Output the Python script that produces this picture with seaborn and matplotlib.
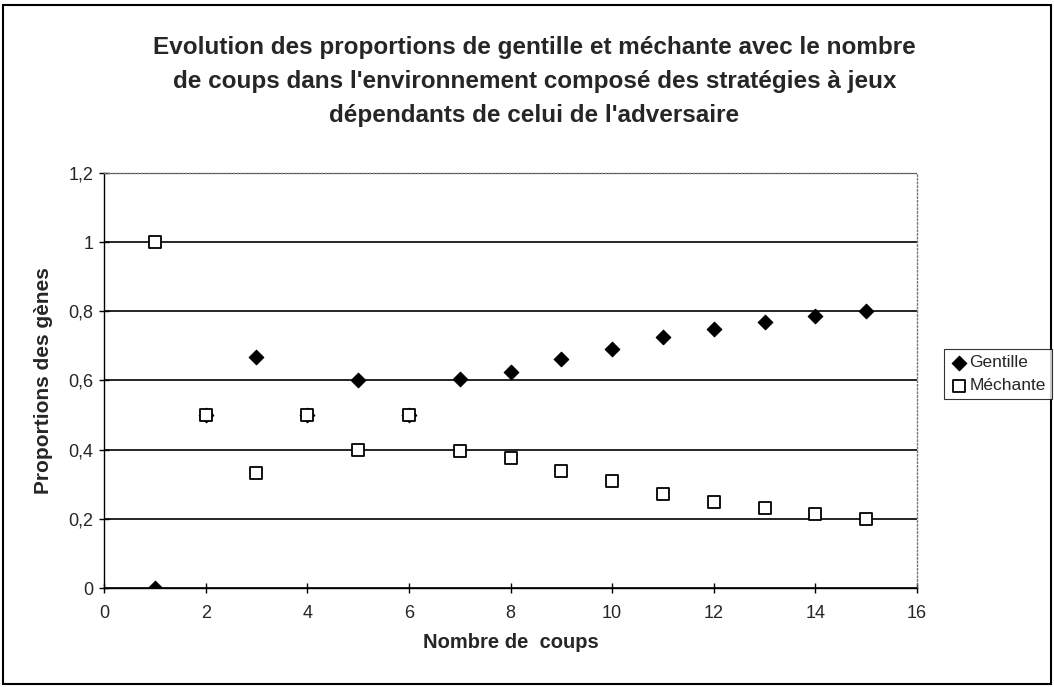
import numpy as np
import pandas as pd
import seaborn as sns
import matplotlib.pyplot as plt
from matplotlib.patches import Rectangle
from matplotlib.ticker import FuncFormatter, MultipleLocator

# proportions of each gene against the number of moves
coups = [1, 2, 3, 4, 5, 6, 7, 8, 9, 10, 11, 12, 13, 14, 15]
gentille = [0, 0.5, 0.667, 0.5, 0.6, 0.5, 0.605, 0.625, 0.663, 0.69, 0.727, 0.75, 0.769, 0.786, 0.8]
mechante = [1, 0.5, 0.333, 0.5, 0.4, 0.5, 0.395, 0.375, 0.337, 0.31, 0.273, 0.25, 0.231, 0.214, 0.2]

df_g = pd.DataFrame({'coups': coups, 'prop': gentille})
df_m = pd.DataFrame({'coups': coups, 'prop': mechante})

sns.set_style("white")
plt.rcParams['font.family'] = ['Liberation Sans', 'DejaVu Sans']

fig = plt.figure(figsize=(10.54, 6.87), dpi=100)
ax = fig.add_axes([0.0987, 0.1441, 0.7713, 0.6041])

sns.scatterplot(data=df_g, x='coups', y='prop', marker='D', s=55, color='black',
                edgecolor='black', linewidth=0.8, label='Gentille', ax=ax, zorder=3)
sns.scatterplot(data=df_m, x='coups', y='prop', marker='s', s=80, facecolor='white',
                edgecolor='black', linewidth=1.3, label='Méchante', ax=ax, zorder=4)

ax.set_xlim(0, 16)
ax.set_ylim(0, 1.2)
ax.xaxis.set_major_locator(MultipleLocator(2))
ax.yaxis.set_major_locator(MultipleLocator(0.2))
ax.yaxis.set_major_formatter(FuncFormatter(lambda v, p: f'{v:g}'.replace('.', ',')))

# horizontal gridlines, not the top one (that is the dotted frame)
ax.yaxis.grid(True, color='black', linewidth=1.2)
ax.get_ygridlines()[-1].set_visible(False)
ax.set_axisbelow(True)

for side in ['left', 'bottom']:
    ax.spines[side].set_color('black')
    ax.spines[side].set_linewidth(1.0)
for side in ['top', 'right']:
    ax.spines[side].set_color('#777777')
    ax.spines[side].set_linestyle(':')
    ax.spines[side].set_linewidth(1.0)

ax.tick_params(axis='both', direction='inout', length=7, width=1, color='black',
               labelsize=13, bottom=True, left=True)
ax.tick_params(axis='x', pad=9)
ax.tick_params(axis='y', pad=4)

ax.set_xlabel('Nombre de  coups', fontsize=14.5, fontweight='bold', labelpad=8)
ax.set_ylabel('Proportions des gènes', fontsize=15, fontweight='bold', labelpad=11)

fig.text(0.507, 0.947,
         "Evolution des proportions de gentille et méchante avec le nombre\n"
         "de coups dans l'environnement composé des stratégies à jeux\n"
         "dépendants de celui de l'adversaire",
         ha='center', va='top', fontsize=17.5, fontweight='bold', linespacing=1.6)

ax.get_legend().remove()
handles, labels = ax.get_legend_handles_labels()
leg = fig.legend(handles, labels, loc='upper left', bbox_to_anchor=(0.896, 0.492),
                 frameon=True, fancybox=False, fontsize=12.5, handletextpad=0.1,
                 handlelength=1.0, borderpad=0.35, labelspacing=0.45, borderaxespad=0)
leg.get_frame().set_edgecolor('black')
leg.get_frame().set_linewidth(0.8)

# black frame around the whole chart
fig.patches.append(Rectangle((0.003, 0.005), 0.994, 0.988, transform=fig.transFigure,
                             fill=False, edgecolor='black', linewidth=1.5))

fig.savefig('out.png', dpi=100)
